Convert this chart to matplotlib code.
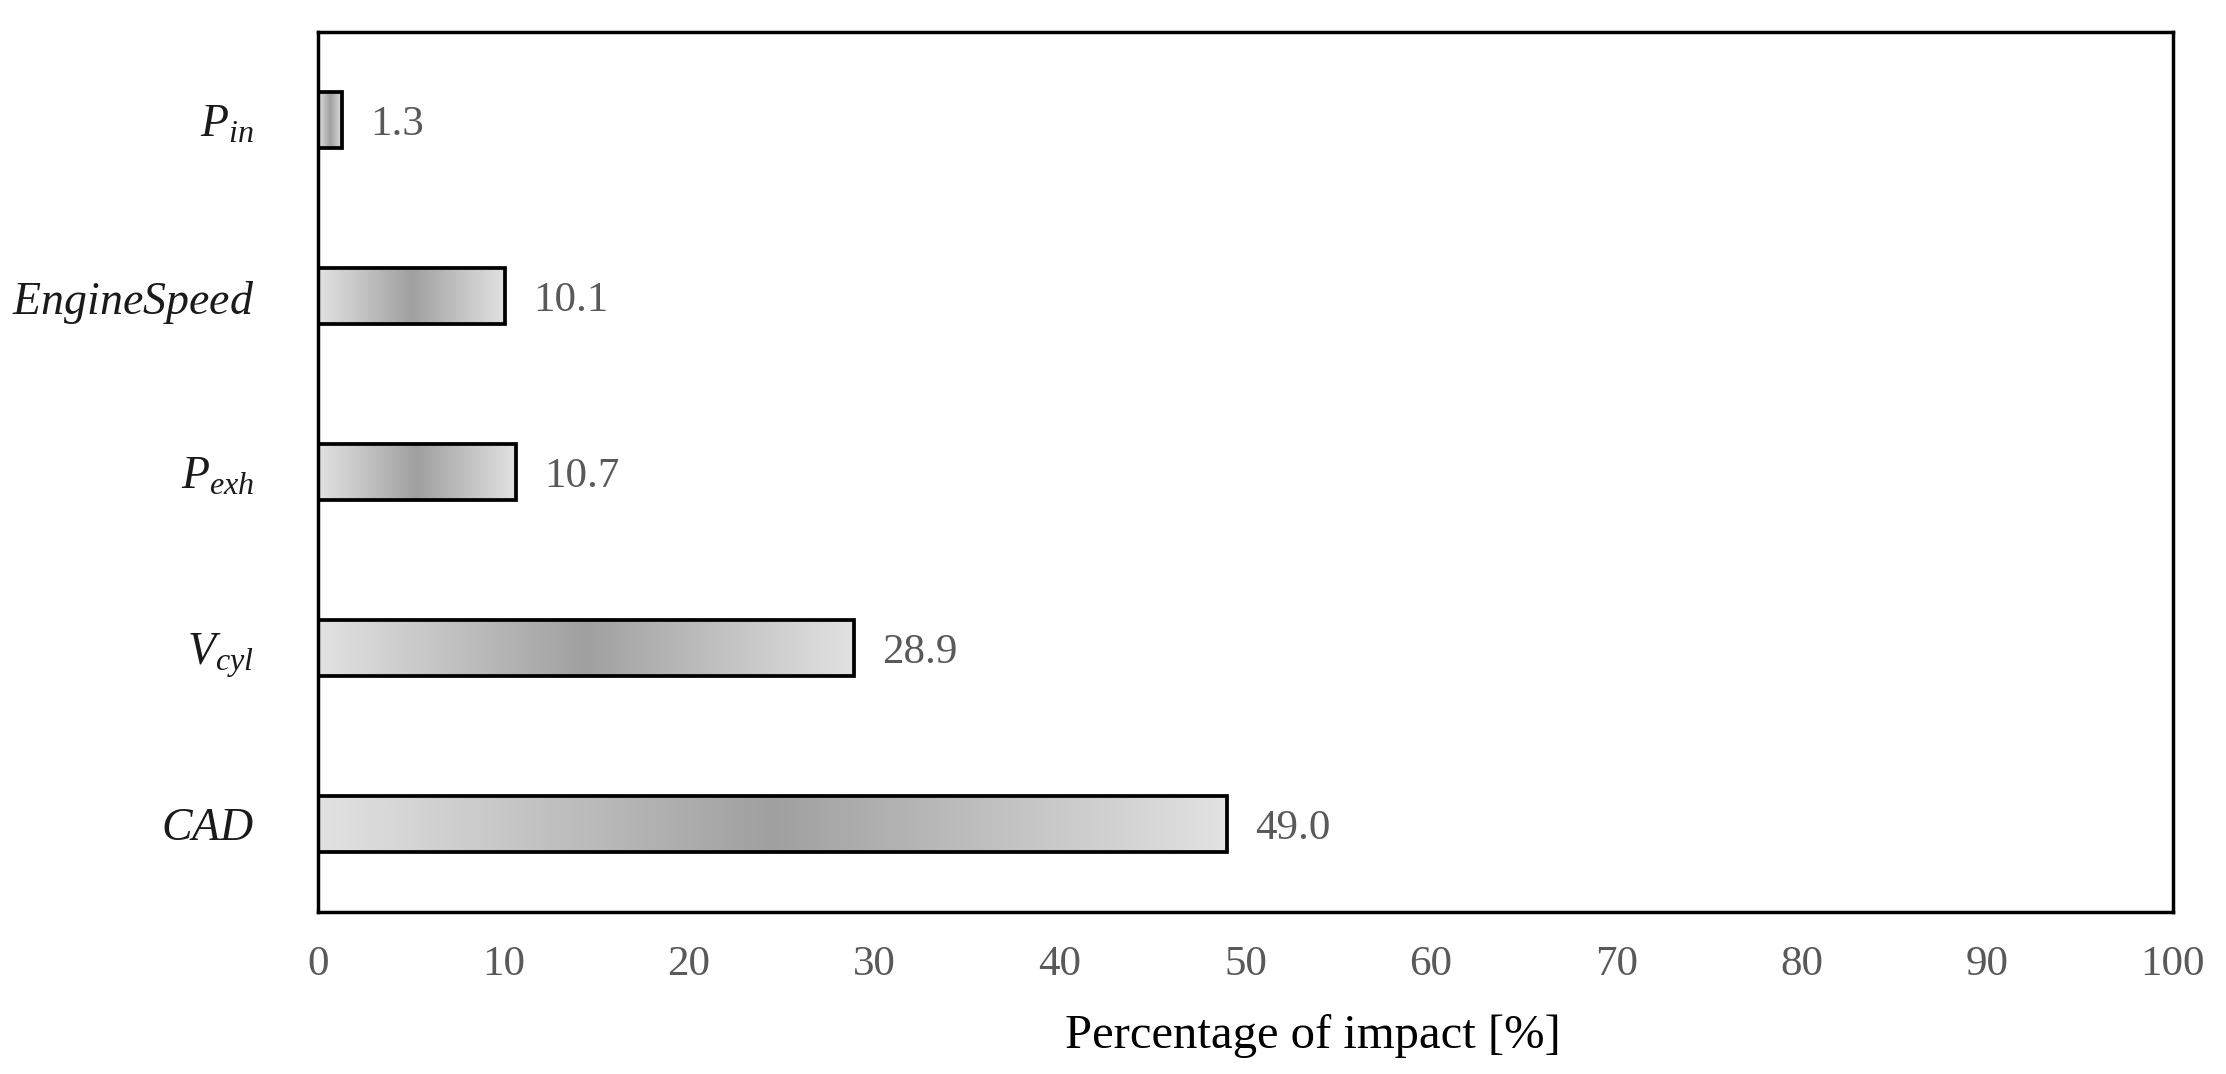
import numpy as np
import matplotlib
matplotlib.use("Agg")
import matplotlib.pyplot as plt
from matplotlib.colors import LinearSegmentedColormap

plt.rcParams['font.family'] = ['Liberation Serif', 'DejaVu Serif']
plt.rcParams['mathtext.fontset'] = 'custom'
plt.rcParams['mathtext.it'] = 'Liberation Serif:italic'
plt.rcParams['mathtext.rm'] = 'Liberation Serif'

categories = [r'$CAD$', r'$V_{cyl}$', r'$P_{exh}$', r'$EngineSpeed$', r'$P_{in}$']
values = [49.0, 28.9, 10.7, 10.1, 1.3]
xticks = [0, 10, 20, 30, 40, 50, 60, 70, 80, 90, 100]

W, H = 2226, 1074
fig = plt.figure(figsize=(W / 100, H / 100), dpi=100)
ax = fig.add_axes([318 / W, 1 - 912 / H, (2173 - 318) / W, (912 - 32) / H])

ypos = np.arange(len(categories))
bars = ax.barh(ypos, values, height=0.32, facecolor='none', edgecolor='black',
               linewidth=2.7, zorder=3)

cmap = LinearSegmentedColormap.from_list('g', ['#e2e2e2', '#a0a0a0', '#e2e2e2'])
grad = np.linspace(0, 1, 256).reshape(1, -1)
for b in bars:
    x0, y0 = b.get_x(), b.get_y()
    w, h = b.get_width(), b.get_height()
    im = ax.imshow(grad, cmap=cmap, extent=[x0, x0 + w, y0, y0 + h],
                   aspect='auto', zorder=2, interpolation='bicubic')
    im.set_clip_path(b)

for yv, v in zip(ypos, values):
    ax.annotate(f'{v:.1f}', xy=(v, yv), xytext=(28, 0), textcoords='offset pixels',
                va='center_baseline', ha='left', fontsize=31, color='#595959')

ax.set_xlim(0, 100)
ax.set_ylim(-0.5, 4.5)
ax.set_xticks(xticks)
ax.set_xticklabels([str(t) for t in xticks])
ax.set_yticks(ypos)
ax.set_yticklabels(categories)
ax.tick_params(axis='x', length=0, pad=24, labelsize=31, labelcolor='#595959')
ax.tick_params(axis='y', length=0, pad=46, labelsize=33, labelcolor='#1a1a1a')
for s in ax.spines.values():
    s.set_linewidth(2.5)
    s.set_color('black')

ax.set_xlabel('Percentage of impact [%]', fontsize=35, color='black')
ax.xaxis.set_label_coords((1313 - 318) / (2173 - 318), -(1036 - 912) / (912 - 32))
ax.xaxis.label.set_va('center')

fig.savefig('out.png', dpi=100, facecolor='white')
